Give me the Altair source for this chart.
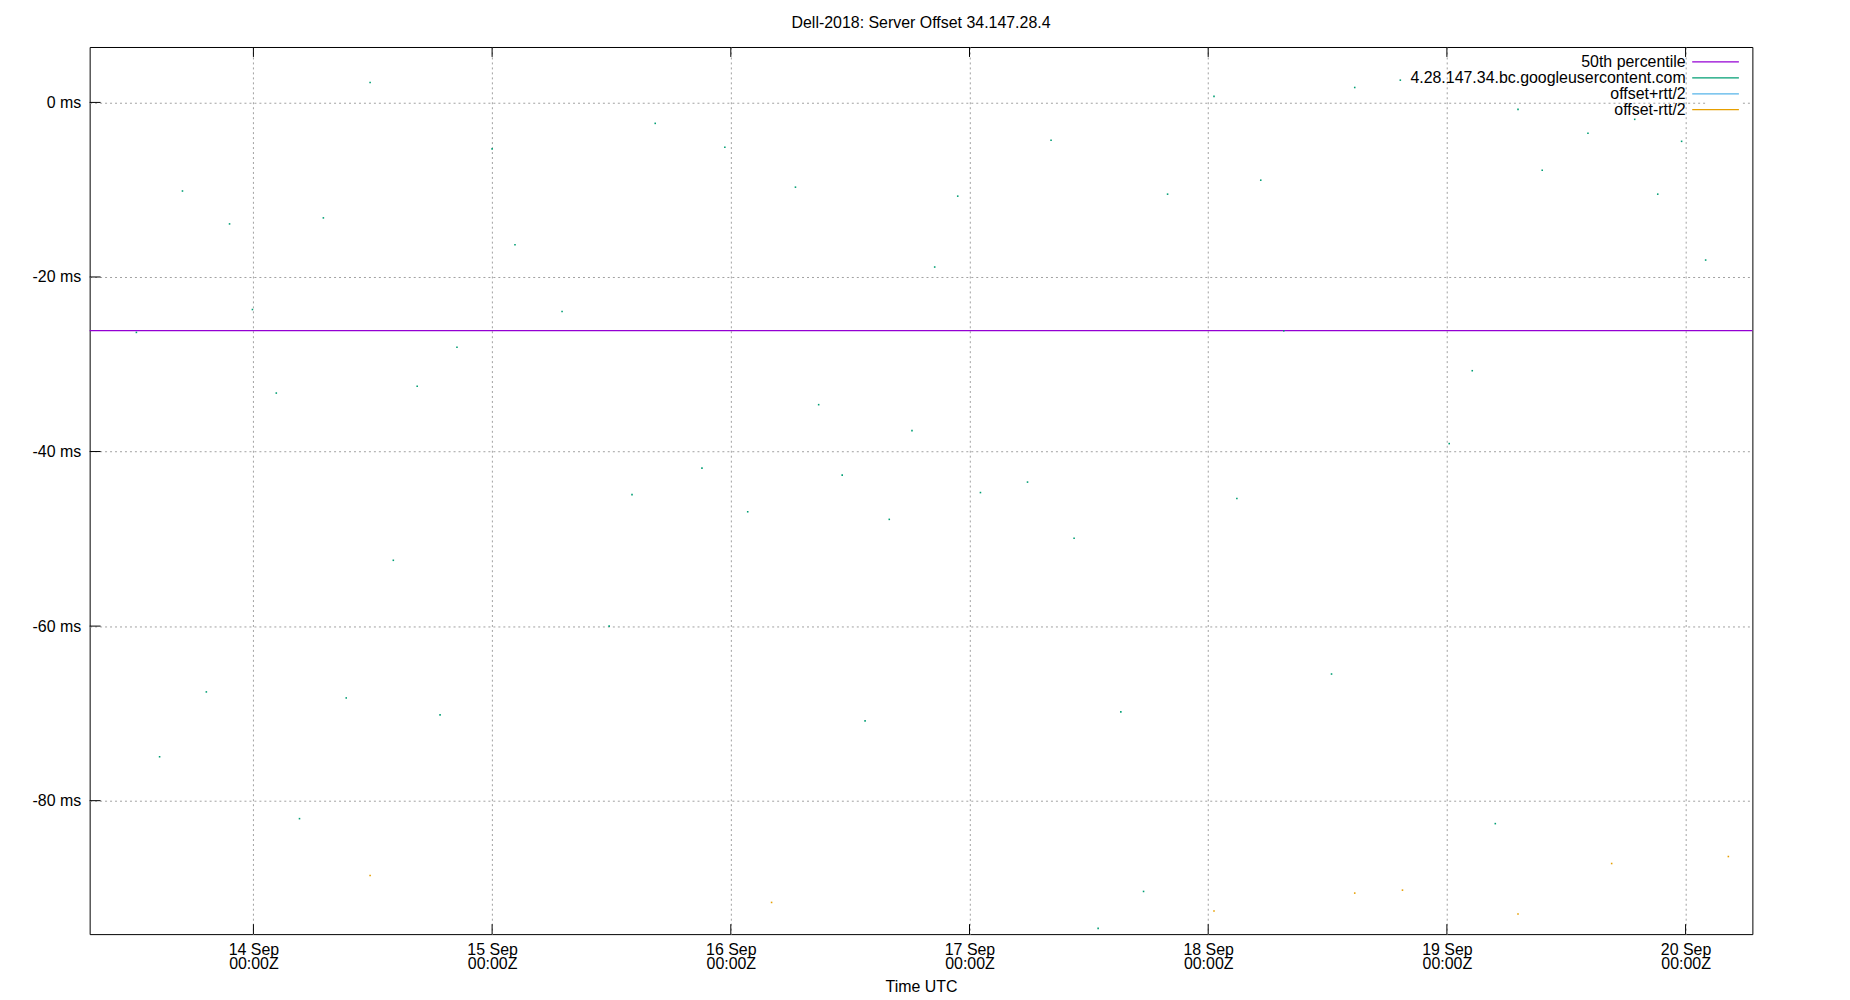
import altair as alt
import pandas as pd

# ---- data ----
host_times = [
    "2018-09-13T12:14:00Z", "2018-09-13T14:34:00Z", "2018-09-13T16:52:00Z", "2018-09-13T19:16:00Z",
    "2018-09-13T21:36:00Z", "2018-09-13T23:54:00Z", "2018-09-14T02:18:00Z", "2018-09-14T04:38:00Z",
    "2018-09-14T07:02:00Z", "2018-09-14T09:20:00Z", "2018-09-14T11:44:00Z", "2018-09-14T14:04:00Z",
    "2018-09-14T16:28:00Z", "2018-09-14T18:46:00Z", "2018-09-14T20:28:00Z", "2018-09-15T00:00:00Z",
    "2018-09-15T02:18:00Z", "2018-09-15T07:02:00Z", "2018-09-15T11:46:00Z", "2018-09-15T14:04:00Z",
    "2018-09-15T16:24:00Z", "2018-09-15T21:06:00Z", "2018-09-15T23:24:00Z", "2018-09-16T01:42:00Z",
    "2018-09-16T06:30:00Z", "2018-09-16T08:50:00Z", "2018-09-16T11:12:00Z", "2018-09-16T13:30:00Z",
    "2018-09-16T15:56:00Z", "2018-09-16T18:13:00Z", "2018-09-16T20:30:00Z", "2018-09-16T22:49:00Z",
    "2018-09-17T01:06:00Z", "2018-09-17T05:50:00Z", "2018-09-17T08:12:00Z", "2018-09-17T10:31:00Z",
    "2018-09-17T12:56:00Z", "2018-09-17T15:13:00Z", "2018-09-17T17:30:00Z", "2018-09-17T19:55:00Z",
    "2018-09-18T00:35:00Z", "2018-09-18T02:53:00Z", "2018-09-18T05:17:00Z", "2018-09-18T07:36:00Z",
    "2018-09-18T12:24:00Z", "2018-09-18T14:44:00Z", "2018-09-18T19:19:00Z", "2018-09-19T00:14:00Z",
    "2018-09-19T02:33:00Z", "2018-09-19T04:52:00Z", "2018-09-19T07:09:00Z", "2018-09-19T09:35:00Z",
    "2018-09-19T14:11:00Z", "2018-09-19T18:53:00Z", "2018-09-19T21:12:00Z", "2018-09-19T23:36:00Z",
    "2018-09-20T02:01:00Z", "2018-09-20T04:18:00Z",
]
host_offsets = [
    -26.35, -74.97, -10.15, -67.54, -13.92, -23.73, -33.30, -82.06,
    -13.23, -68.23, 2.28, -52.46, -32.51, -70.17, -28.06, -5.32,
    -16.31, -23.95, -60.00, -44.94, -2.40, -41.90, -5.14, -46.90,
    -9.71, -34.63, -42.70, -70.86, -47.77, -37.60, -18.86, -10.74,
    -44.70, -43.50, -4.34, -49.94, -94.63, -69.83, -90.40, -10.51,
    0.69, -45.37, -8.91, -26.17, -65.49, 1.71, 2.55, -39.09,
    -30.74, -82.63, -0.80, -7.77, -3.54, -1.94, -10.51, -4.46,
    -18.06, 4.27,
]
low_times = [
    "2018-09-14T11:44:00Z", "2018-09-16T04:06:00Z", "2018-09-18T00:35:00Z", "2018-09-18T14:44:00Z",
    "2018-09-18T19:32:00Z", "2018-09-19T07:09:00Z", "2018-09-19T16:34:00Z", "2018-09-20T04:18:00Z",
]
low_offsets = [-88.57, -91.66, -92.64, -90.59, -90.25, -92.99, -87.20, -86.40]

median_offset = -26.15

series_names = ["50th percentile", "4.28.147.34.bc.googleusercontent.com", "offset+rtt/2", "offset-rtt/2"]
series_colors = ["#9400d3", "#009e73", "#56b4e9", "#e69f00"]

y_ticks = [0, -20, -40, -60, -80]
x_tick_days = [14, 15, 16, 17, 18, 19, 20]

# ---- tables ----
points = pd.DataFrame({
    "t": host_times + low_times,
    "v": host_offsets + low_offsets,
    "series": [series_names[1]] * len(host_times) + [series_names[3]] * len(low_times),
})
median_df = pd.DataFrame({"series": [series_names[0]], "v": [median_offset]})
xticks_df = pd.DataFrame({"t": [f"2018-09-{d:02d}T00:00:00Z" for d in x_tick_days]})
yticks_df = pd.DataFrame({"v": y_ticks})

W, H = 1670, 891
FONT = "Liberation Sans"

x_domain = [alt.DateTime(year=2018, month=9, date=13, hours=7, minutes=32, utc=True),
            alt.DateTime(year=2018, month=9, date=20, hours=6, minutes=43, utc=True)]
x_values = [alt.DateTime(year=2018, month=9, date=d, utc=True) for d in x_tick_days]
y_domain = [-95.29, 6.35]

x_scale = alt.Scale(type="utc", domain=x_domain, nice=False)
y_scale = alt.Scale(domain=y_domain, nice=False, zero=False)
color_scale = alt.Scale(domain=series_names, range=series_colors)

axis_style = dict(
    labelFont=FONT, labelFontSize=16, labelColor="black",
    titleFont=FONT, titleFontSize=16, titleColor="black", titleFontWeight="normal",
    grid=True, gridColor="#a0a0a0", gridDash=[2, 3], gridOpacity=1, gridWidth=1,
    ticks=False, tickSize=0, domain=False,
)
x_axis = alt.Axis(
    values=x_values,
    labelExpr="[utcFormat(datum.value, '%d %b'), utcFormat(datum.value, '%H:%MZ')]",
    title="Time UTC",
    labelPadding=7, labelLineHeight=15, titlePadding=7,
    **axis_style,
)
y_axis = alt.Axis(
    values=y_ticks,
    labelExpr="datum.value + ' ms'",
    title=None,
    labelPadding=9,
    **axis_style,
)

X = alt.X("t:T", scale=x_scale, axis=x_axis)
Y = alt.Y("v:Q", scale=y_scale, axis=y_axis)

legend = alt.Legend(
    orient="none", legendX=1625, legendY=7, title=None,
    symbolType="M-10,0L10,0", symbolSize=22, symbolStrokeWidth=1.2,
    labelAlign="right", labelOffset={"expr": "-38"}, labelFontSize=16, labelFont=FONT,
    labelColor="black", labelLimit=0, fillColor="white", padding=0,
    rowPadding=0,
)

median_rule = alt.Chart(median_df).mark_rule(strokeWidth=1.2).encode(
    y=alt.Y("v:Q", scale=y_scale, axis=y_axis),
    color=alt.Color("series:N", scale=color_scale, legend=legend),
)

dots = alt.Chart(points).mark_square(size=2.5, opacity=1).encode(
    x=X, y=Y,
    color=alt.Color("series:N", scale=color_scale, legend=None),
)

top_ticks = alt.Chart(xticks_df).mark_rule(color="black", strokeWidth=1).encode(
    x=alt.X("t:T", scale=x_scale, axis=x_axis), y=alt.value(0), y2=alt.value(10))
bottom_ticks = alt.Chart(xticks_df).mark_rule(color="black", strokeWidth=1).encode(
    x=alt.X("t:T", scale=x_scale, axis=x_axis), y=alt.value(H - 10), y2=alt.value(H))
left_ticks = alt.Chart(yticks_df).mark_rule(color="black", strokeWidth=1).encode(
    y=alt.Y("v:Q", scale=y_scale, axis=y_axis), x=alt.value(0), x2=alt.value(11))

chart = alt.layer(median_rule, dots, top_ticks, bottom_ticks, left_ticks).properties(
    width=W, height=H,
    background="white",
    title=alt.TitleParams("Dell-2018: Server Offset 34.147.28.4", anchor="middle",
                          fontSize=16, font=FONT, fontWeight="normal", color="black", offset=16),
    autosize=alt.AutoSizeParams(type="none"),
    padding={"left": 82, "top": 37, "right": 90, "bottom": 64},
).configure_view(
    stroke="black", strokeWidth=1,
)

chart.save("out.html", embed_options={"renderer": "svg", "actions": False})
